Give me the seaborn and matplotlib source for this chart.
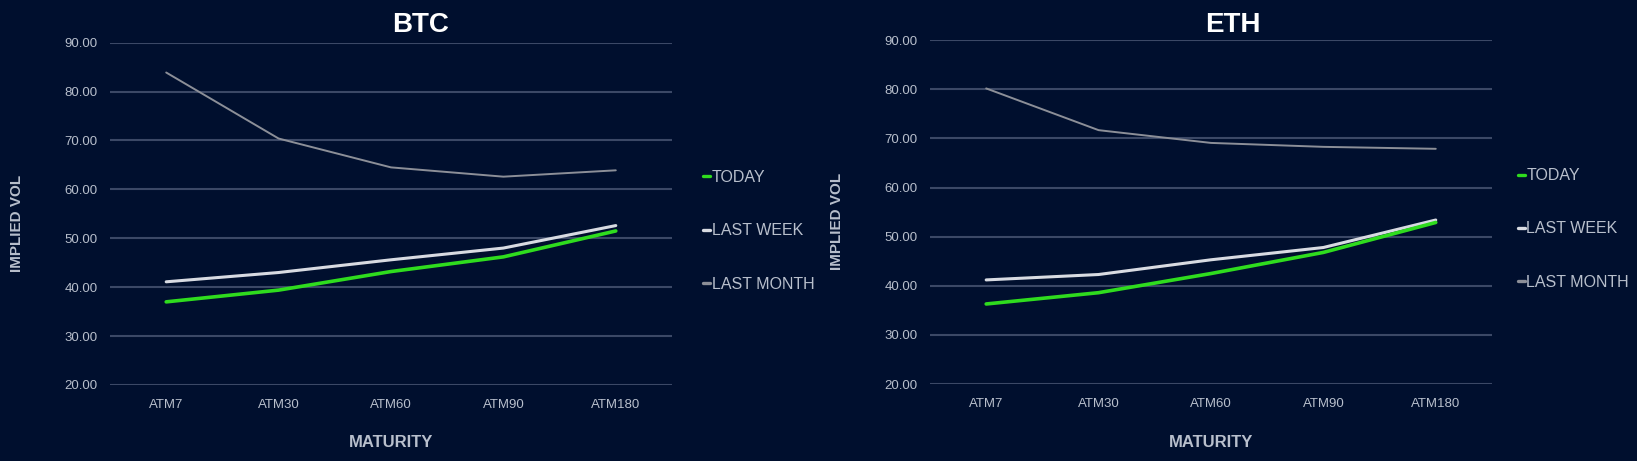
import numpy as np
import pandas as pd
import matplotlib
matplotlib.use('Agg')
import matplotlib.pyplot as plt
import seaborn as sns
from matplotlib.lines import Line2D

# -----------------------
# data

maturities = ['ATM7', 'ATM30', 'ATM60', 'ATM90', 'ATM180']
series = ['TODAY', 'LAST WEEK', 'LAST MONTH']

btc_today = [37.0, 39.4, 43.2, 46.2, 51.5]
btc_last_week = [41.1, 43.0, 45.6, 48.0, 52.6]
btc_last_month = [83.9, 70.4, 64.5, 62.6, 63.9]

eth_today = [36.3, 38.6, 42.5, 46.8, 52.9]
eth_last_week = [41.2, 42.3, 45.3, 47.8, 53.4]
eth_last_month = [80.2, 71.7, 69.1, 68.3, 67.9]

yticks = [20, 30, 40, 50, 60, 70, 80, 90]

# -----------------------

BG = '#000f2e'
GRID = '#3b4866'
TXT = '#b8bfcc'
colors = {'TODAY': '#2fdc1e', 'LAST WEEK': '#d8dbe2', 'LAST MONTH': '#8c8f98'}
widths = {'TODAY': 2.6, 'LAST WEEK': 2.2, 'LAST MONTH': 1.4}

sns.set_style('dark')
plt.rcParams['font.family'] = ['Liberation Sans', 'DejaVu Sans']

def make_df(today, week, month):
	rows = []
	for name, vals in zip(series, [today, week, month]):
		for m, v in zip(maturities, vals):
			rows.append((m, name, v))
	return pd.DataFrame(rows, columns=['maturity', 'series', 'vol'])

df_btc = make_df(btc_today, btc_last_week, btc_last_month)
df_eth = make_df(eth_today, eth_last_week, eth_last_month)

fig = plt.figure(figsize=(16.37, 4.61), dpi=100)
fig.patch.set_facecolor(BG)

# title, data, axes rect, title x, legend x
panels = [
	('BTC', df_btc, [0.0672, 0.1649, 0.3433, 0.7425], 0.257, 1.03),
	('ETH', df_eth, [0.5681, 0.1670, 0.3433, 0.7456], 0.753, 1.02),
]

for title, df, pos, tx, lx in panels:
	ax = fig.add_axes(pos)
	ax.set_facecolor(BG)
	for name in series[::-1]:
		sub = df[df['series'] == name]
		sns.lineplot(data=sub, x='maturity', y='vol', ax=ax, color=colors[name],
			lw=widths[name], sort=False, legend=False)

	ax.set_xlim(-0.5, 4.5)
	ax.set_ylim(20, 90)
	ax.set_yticks(yticks)
	ax.set_yticklabels(['%.2f' % t for t in yticks])
	ax.grid(False)
	for t in yticks:
		ax.axhline(t, color=GRID, lw=1.5, zorder=0)
	for s in ax.spines.values():
		s.set_visible(False)
	ax.tick_params(colors=TXT, labelsize=9.5, length=0, pad=9)
	ax.tick_params(axis='x', pad=10)

	ax.set_xlabel('')
	ax.set_ylabel('')
	fig.text(pos[0] + pos[2] / 2, 0.04, 'MATURITY', color=TXT, fontsize=12,
		fontweight='bold', ha='center', va='center')
	fig.text(pos[0] - 0.057, pos[1] + pos[3] / 2 - 0.02, 'IMPLIED VOL', color=TXT,
		fontsize=11, fontweight='bold', rotation=90, ha='center', va='center')
	fig.text(tx, 0.945, title, color='white',
		fontsize=20, fontweight='bold', ha='center', va='center')

	handles = [Line2D([], [], color=colors[n], lw=2.4) for n in series]
	leg = ax.legend(handles, series, loc='upper left', bbox_to_anchor=(lx, 0.67),
		frameon=False, handlelength=0.45, handletextpad=0.1, labelspacing=2.4,
		fontsize=11.5)
	for t in leg.get_texts():
		t.set_color(TXT)

fig.savefig('out.png', dpi=100, facecolor=BG)
